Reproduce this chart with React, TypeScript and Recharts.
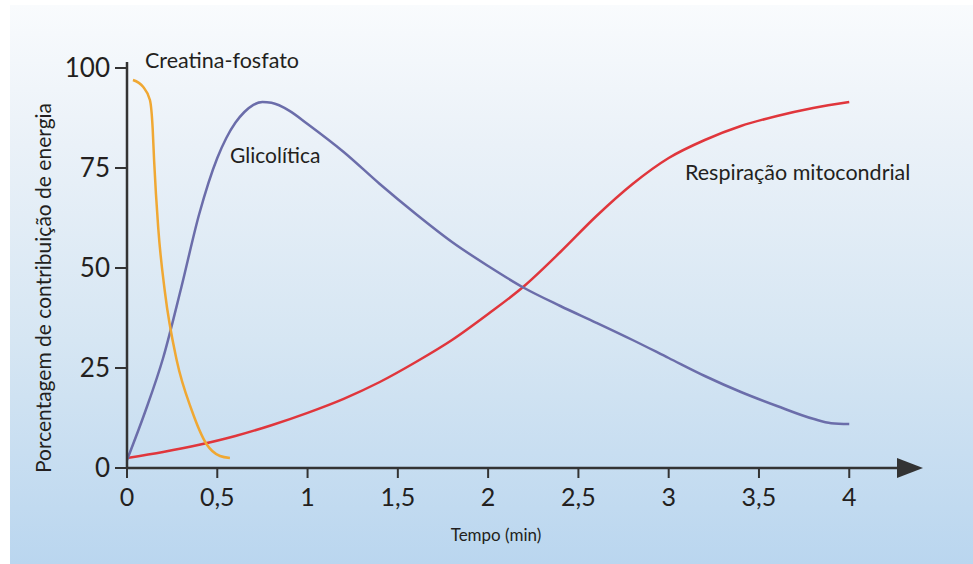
import React from 'react';
import { LineChart, Line, XAxis, YAxis } from 'recharts';

const creatinaFosfato = [
  { x: 0.033, y: 97 }, { x: 0.089, y: 95.3 }, { x: 0.127, y: 92 }, { x: 0.142, y: 85 },
  { x: 0.15, y: 77 }, { x: 0.173, y: 60 }, { x: 0.21, y: 44 }, { x: 0.275, y: 27 },
  { x: 0.358, y: 14.5 }, { x: 0.44, y: 6 }, { x: 0.515, y: 3 }, { x: 0.57, y: 2.5 },
];

const glicolitica = [
  { x: 0, y: 2 }, { x: 0.1, y: 14 }, { x: 0.2, y: 27.5 }, { x: 0.3, y: 45 },
  { x: 0.4, y: 63.5 }, { x: 0.5, y: 77.5 }, { x: 0.55, y: 82.5 }, { x: 0.6, y: 86.3 },
  { x: 0.65, y: 89 }, { x: 0.7, y: 90.8 }, { x: 0.75, y: 91.5 }, { x: 0.8, y: 91.3 },
  { x: 0.9, y: 89.3 }, { x: 1.0, y: 86 }, { x: 1.2, y: 79 }, { x: 1.4, y: 71 },
  { x: 1.6, y: 63.5 }, { x: 1.8, y: 56.5 }, { x: 2.0, y: 50.5 }, { x: 2.2, y: 45 },
  { x: 2.4, y: 40.5 }, { x: 2.6, y: 36.3 }, { x: 2.8, y: 32 }, { x: 3.0, y: 27.5 },
  { x: 3.2, y: 23 }, { x: 3.4, y: 19 }, { x: 3.6, y: 15.5 }, { x: 3.8, y: 12.3 },
  { x: 3.9, y: 11.2 }, { x: 4.0, y: 11 },
];

const respiracao = [
  { x: 0, y: 2.5 }, { x: 0.2, y: 4 }, { x: 0.4, y: 5.8 }, { x: 0.6, y: 8 },
  { x: 0.8, y: 10.7 }, { x: 1.0, y: 13.8 }, { x: 1.2, y: 17.3 }, { x: 1.4, y: 21.5 },
  { x: 1.6, y: 26.5 }, { x: 1.8, y: 32 }, { x: 2.0, y: 38.5 }, { x: 2.2, y: 45.5 },
  { x: 2.4, y: 54 }, { x: 2.6, y: 63 }, { x: 2.8, y: 71 }, { x: 3.0, y: 77.5 },
  { x: 3.2, y: 82 }, { x: 3.4, y: 85.5 }, { x: 3.6, y: 88 }, { x: 3.8, y: 90 }, { x: 4.0, y: 91.5 },
];

const xTicks = [0, 0.5, 1, 1.5, 2, 2.5, 3, 3.5, 4];
const yTicks = [0, 25, 50, 75, 100];

const FONT = 'Lato, "Open Sans", sans-serif';
const INK = '#231f20';
const AXIS = '#333333';

export default function App() {
  return (
    <div style={{ position: 'absolute', left: 0, top: 0, width: 973, height: 564, background: '#ffffff' }}>
      <div
        style={{
          position: 'absolute', left: 10, top: 5, width: 963, height: 559,
          background: 'linear-gradient(to bottom, #f9fbfd 0%, #eaf1f8 25%, #d6e6f3 60%, #bad6ef 100%)',
        }}
      />
      <div style={{ position: 'absolute', left: 0, top: 0 }}>
        <LineChart width={973} height={564} margin={{ top: 62, right: 75, bottom: 36, left: 0 }}>
          <defs>
            <marker id="arrowHead" markerWidth="30" markerHeight="24" refX="1" refY="12" orient="auto" markerUnits="userSpaceOnUse">
              <path d="M0,2 L26,12 L0,22 z" fill={AXIS} />
            </marker>
          </defs>
          <XAxis
            dataKey="x"
            type="number"
            domain={[0, 4.27]}
            allowDataOverflow
            ticks={xTicks}
            interval={0}
            tickFormatter={(v: number) => String(v).replace('.', ',')}
            height={60}
            tickSize={10}
            tickMargin={10}
            axisLine={{ stroke: AXIS, strokeWidth: 2.5, markerEnd: 'url(#arrowHead)' }}
            tickLine={{ stroke: AXIS, strokeWidth: 2 }}
            tick={{ fill: INK, fontSize: 25, fontFamily: FONT }}
          />
          <YAxis
            dataKey="y"
            type="number"
            domain={[0, 101.5]}
            ticks={yTicks}
            interval={0}
            width={127}
            tickSize={12}
            tickMargin={5}
            axisLine={{ stroke: AXIS, strokeWidth: 2.5 }}
            tickLine={{ stroke: AXIS, strokeWidth: 2 }}
            tick={{ fill: INK, fontSize: 26, fontFamily: FONT }}
          />
          <Line data={respiracao} dataKey="y" type="monotone" stroke="#e0363c" strokeWidth={2.5} dot={false} isAnimationActive={false} />
          <Line data={glicolitica} dataKey="y" type="monotone" stroke="#6b6daa" strokeWidth={2.5} dot={false} isAnimationActive={false} />
          <Line data={creatinaFosfato} dataKey="y" type="monotone" stroke="#f0a833" strokeWidth={2.5} dot={false} isAnimationActive={false} />
          <text x={145} y={68} fontSize={21.5} fontFamily={FONT} fill={INK}>Creatina-fosfato</text>
          <text x={230} y={163} fontSize={21} fontFamily={FONT} fill={INK}>Glicolítica</text>
          <text x={685} y={180} fontSize={21.5} fontFamily={FONT} fill={INK}>Respiração mitocondrial</text>
          <text x={496} y={541} fontSize={17} fontFamily={FONT} fill={INK} textAnchor="middle">Tempo (min)</text>
          <text x={51} y={288} fontSize={21} fontFamily={FONT} fill={INK} textAnchor="middle" transform="rotate(-90 51 288)">Porcentagem de contribuição de energia</text>
        </LineChart>
      </div>
    </div>
  );
}
